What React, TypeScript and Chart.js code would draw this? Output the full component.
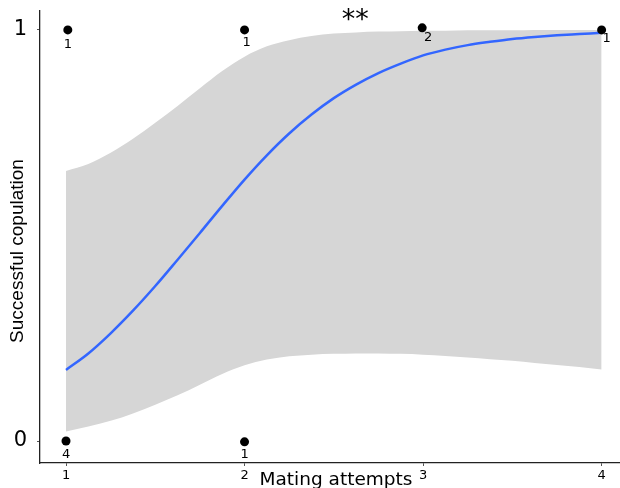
import React, { useEffect, useRef } from "react";
import { Chart, registerables } from "chart.js";

Chart.register(...registerables);

// Fitted curve and confidence band
const fitX = [1, 1.125, 1.25, 1.375, 1.5, 1.625, 1.75, 1.875, 2, 2.125, 2.25, 2.375, 2.5, 2.625, 2.75, 2.875, 3, 3.125, 3.25, 3.375, 3.5, 3.625, 3.75, 3.875, 4];
const fitY = [0.173, 0.213, 0.262, 0.317, 0.377, 0.441, 0.506, 0.572, 0.636, 0.695, 0.748, 0.794, 0.834, 0.867, 0.895, 0.918, 0.938, 0.952, 0.963, 0.971, 0.978, 0.983, 0.987, 0.99, 0.993];
const bandUpper = [0.657, 0.674, 0.701, 0.735, 0.774, 0.815, 0.858, 0.9, 0.935, 0.96, 0.975, 0.985, 0.991, 0.994, 0.996, 0.997, 0.998, 0.998, 0.999, 0.999, 0.999, 1.0, 1.0, 1.0, 1.0];
const bandLower = [0.023, 0.035, 0.049, 0.067, 0.088, 0.111, 0.137, 0.163, 0.184, 0.198, 0.206, 0.21, 0.212, 0.213, 0.213, 0.212, 0.21, 0.207, 0.203, 0.199, 0.195, 0.19, 0.185, 0.18, 0.174];

// Observed points (jittered) and their counts
const pointX = [1.01, 2.0, 2.995, 4.0, 1.0, 2.0];
const pointY = [1, 1, 1.005, 1, 0, -0.002];
const pointCounts = ["1", "1", "2", "1", "4", "1"];

const xTicks = [1, 2, 3, 4];
const yTicks = [0, 1];
const xTitle = "Mating attempts";
const yTitle = "Successful copulation";
const signif = "**";
const signifX = 2.62;
const signifY = 1.03;

// label nudges in px (style)
const labelNudge = [
  [0, 15],
  [2, 13],
  [6, 10],
  [5, 9],
  [0, 14],
  [0, 13],
];

const overlayPlugin = {
  id: "overlay",
  afterDraw(chart: any) {
    const ctx = chart.ctx;
    const xs = chart.scales.x;
    const ys = chart.scales.y;
    ctx.save();
    ctx.fillStyle = "#000";
    ctx.font = "13px 'DejaVu Sans'";
    ctx.textAlign = "center";
    ctx.textBaseline = "middle";
    pointX.forEach((x, i) => {
      const px = xs.getPixelForValue(x) + labelNudge[i][0];
      const py = ys.getPixelForValue(pointY[i]) + labelNudge[i][1];
      ctx.fillText(pointCounts[i], px, py);
    });
    // x title
    ctx.font = "18.5px 'DejaVu Sans'";
    ctx.textBaseline = "alphabetic";
    ctx.fillText(xTitle, 336, 485);
    // y title
    ctx.save();
    ctx.translate(18, 251);
    ctx.rotate(-Math.PI / 2);
    ctx.font = "19px 'Liberation Sans'";
    ctx.textBaseline = "middle";
    ctx.fillText(yTitle, 0, 0);
    ctx.restore();
    // significance
    ctx.font = "27px 'DejaVu Sans'";
    ctx.textBaseline = "middle";
    ctx.fillText(signif, xs.getPixelForValue(signifX), ys.getPixelForValue(signifY) + 3);
    ctx.restore();
  },
};

export default function App() {
  const ref = useRef<HTMLCanvasElement>(null);
  useEffect(() => {
    if (!ref.current) return;
    const chart = new Chart(ref.current, {
      type: "scatter",
      data: {
        datasets: [
          {
            type: "line",
            data: fitX.map((x, i) => ({ x, y: bandLower[i] })),
            borderWidth: 0,
            borderColor: "rgba(0,0,0,0)",
            pointRadius: 0,
            fill: false,
            cubicInterpolationMode: "monotone",
            order: 4,
          } as any,
          {
            type: "line",
            data: fitX.map((x, i) => ({ x, y: bandUpper[i] })),
            borderWidth: 0,
            borderColor: "rgba(0,0,0,0)",
            backgroundColor: "#d6d6d6",
            pointRadius: 0,
            fill: "-1",
            cubicInterpolationMode: "monotone",
            order: 3,
          } as any,
          {
            type: "line",
            data: fitX.map((x, i) => ({ x, y: fitY[i] })),
            borderWidth: 2.5,
            borderColor: "#3366ff",
            pointRadius: 0,
            fill: false,
            cubicInterpolationMode: "monotone",
            order: 2,
          } as any,
          {
            type: "scatter",
            data: pointX.map((x, i) => ({ x, y: pointY[i] })),
            pointRadius: 4.5,
            pointBackgroundColor: "#000",
            pointBorderColor: "#000",
            pointBorderWidth: 0,
            order: 1,
          } as any,
        ],
      },
      options: {
        responsive: false,
        animation: false,
        layout: { autoPadding: false, padding: { top: 11, left: 0, right: 0, bottom: 0 } },
        plugins: { legend: { display: false }, tooltip: { enabled: false } },
        scales: {
          x: {
            type: "linear",
            min: 0.8543,
            max: 4.103,
            afterBuildTicks: (s: any) => {
              s.ticks = xTicks.map((v) => ({ value: v }));
            },
            afterFit: (s: any) => {
              s.height = 25;
              s.paddingLeft = 0;
              s.paddingRight = 0;
            },
            grid: { drawOnChartArea: false, drawTicks: true, tickLength: 3, color: "#555", lineWidth: 1 },
            border: { display: true, color: "#222", width: 1.3 },
            ticks: {
              color: "#000",
              font: { family: "'DejaVu Sans'", size: 13 },
              padding: 2,
              maxRotation: 0,
              callback: (v: any) => String(v),
            },
          },
          y: {
            type: "linear",
            min: -0.0535,
            max: 1.046,
            afterBuildTicks: (s: any) => {
              s.ticks = yTicks.map((v) => ({ value: v }));
            },
            afterFit: (s: any) => {
              s.width = 40;
              s.paddingTop = 0;
              s.paddingBottom = 0;
            },
            grid: { drawOnChartArea: false, drawTicks: true, tickLength: 3, color: "#555", lineWidth: 1 },
            border: { display: true, color: "#222", width: 1.3 },
            ticks: {
              color: "#000",
              font: { family: "'DejaVu Sans'", size: 21 },
              padding: 10,
              callback: (v: any) => String(v),
            },
          },
        },
      },
      plugins: [overlayPlugin],
    });
    return () => chart.destroy();
  }, []);
  return (
    <div style={{ position: "absolute", left: 0, top: 0, width: 620, height: 488, background: "#fff" }}>
      <canvas ref={ref} width={620} height={488} />
    </div>
  );
}
